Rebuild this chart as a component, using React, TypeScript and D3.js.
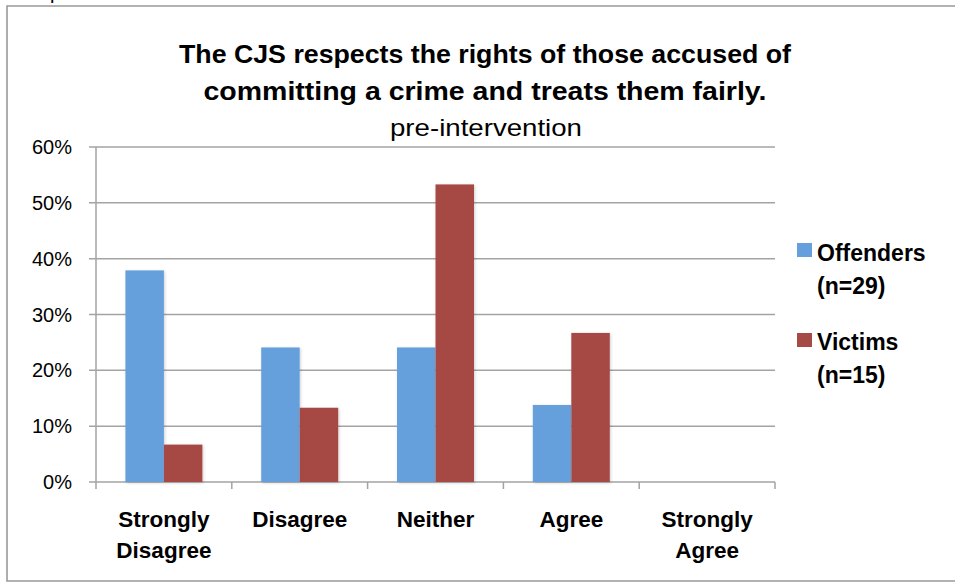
import React from "react";
import * as d3 from "d3";

const categories = ["Strongly Disagree", "Disagree", "Neither", "Agree", "Strongly Agree"];
const categoryLines = [["Strongly", "Disagree"], ["Disagree"], ["Neither"], ["Agree"], ["Strongly", "Agree"]];
const seriesNames = ["Offenders", "Victims"];
const legendLines = [["Offenders", "(n=29)"], ["Victims", "(n=15)"]];
const offenders = [0.379, 0.241, 0.241, 0.138, 0];
const victims = [0.067, 0.133, 0.533, 0.267, 0];
const yTicks = [0, 0.1, 0.2, 0.3, 0.4, 0.5, 0.6];
const colors = ["#65a0dd", "#a64a45"];
const titleLines = ["The CJS respects the rights of those accused of", "committing a crime and treats them fairly."];
const subtitle = "pre-intervention";

const FONT = "'Liberation Sans', Arial, sans-serif";

export default function App() {
  const W = 955, H = 582;
  const x0 = 96, x1 = 775, yTop = 147, yBot = 482;
  const x = d3.scaleBand<string>().domain(categories).range([x0, x1]).padding(0);
  const xs = d3.scaleBand<string>().domain(seriesNames).range([0, x.bandwidth()]).paddingInner(0).paddingOuter(0.764);
  const y = d3.scaleLinear().domain([0, 0.6]).range([yBot, yTop]);
  const series = [offenders, victims];
  const fmt = d3.format(".0%");
  const grid = "#a3a3a3";

  return (
    <svg width={W} height={H} style={{ position: "absolute", left: 0, top: 0, background: "#fff", overflow: "hidden" }}>
      <defs>
        <filter id="sh" x="-20%" y="-20%" width="140%" height="140%">
          <feDropShadow dx="1" dy="1" stdDeviation="1.5" floodColor="#000" floodOpacity="0.18" />
        </filter>
      </defs>
      <rect x={0} y={0} width={W} height={H} fill="#fff" />
      <text x={50} y={-1} fontFamily={FONT} fontSize={20}>p</text>
      <path d={`M${W},6 H7 V581 H${W}`} fill="none" stroke="#999" strokeWidth={1.6} />

      <g fontFamily={FONT} fill="#000" textAnchor="middle">
        <text x={485} y={63} fontSize={26} fontWeight="bold" textLength={612} lengthAdjust="spacingAndGlyphs">{titleLines[0]}</text>
        <text x={485} y={100} fontSize={26} fontWeight="bold" textLength={563} lengthAdjust="spacingAndGlyphs">{titleLines[1]}</text>
        <text x={486} y={136} fontSize={24} textLength={192} lengthAdjust="spacingAndGlyphs">{subtitle}</text>
      </g>

      {yTicks.map((t) => (
        <g key={t}>
          <line x1={89} x2={x1} y1={y(t)} y2={y(t)} stroke={grid} strokeWidth={1.5} />
          <text x={72} y={y(t) + 7} textAnchor="end" fontFamily={FONT} fontSize={20}>{fmt(t)}</text>
        </g>
      ))}
      <line x1={x0} x2={x0} y1={yTop} y2={yBot + 7} stroke={grid} strokeWidth={1.5} />
      {categories.map((c) => (
        <line key={c} x1={(x(c) as number) + x.bandwidth()} x2={(x(c) as number) + x.bandwidth()} y1={yBot} y2={yBot + 7} stroke={grid} strokeWidth={1.5} />
      ))}

      {categories.map((c, i) => (
        <g key={c}>
          {series.map((s, j) =>
            s[i] > 0 ? (
              <rect
                key={j}
                x={(x(c) as number) + (xs(seriesNames[j]) as number)}
                y={y(s[i])}
                width={xs.bandwidth()}
                height={yBot - y(s[i])}
                fill={colors[j]}
                filter="url(#sh)"
              />
            ) : null
          )}
        </g>
      ))}

      {categories.map((c, i) => (
        <text key={c} x={(x(c) as number) + x.bandwidth() / 2} y={527} textAnchor="middle" fontFamily={FONT} fontWeight="bold" fontSize={22.5}>
          {categoryLines[i].map((l, k) => (
            <tspan key={k} x={(x(c) as number) + x.bandwidth() / 2} dy={k === 0 ? 0 : 31}>{l}</tspan>
          ))}
        </text>
      ))}

      {legendLines.map((ls, j) => (
        <g key={j}>
          <rect x={797} y={243 + j * 90} width={15} height={14} fill={colors[j]} />
          <text x={817} y={261 + j * 89} fontFamily={FONT} fontWeight="bold" fontSize={23}>
            {ls.map((l, k) => (
              <tspan key={k} x={817} dy={k === 0 ? 0 : 33}>{l}</tspan>
            ))}
          </text>
        </g>
      ))}
    </svg>
  );
}
